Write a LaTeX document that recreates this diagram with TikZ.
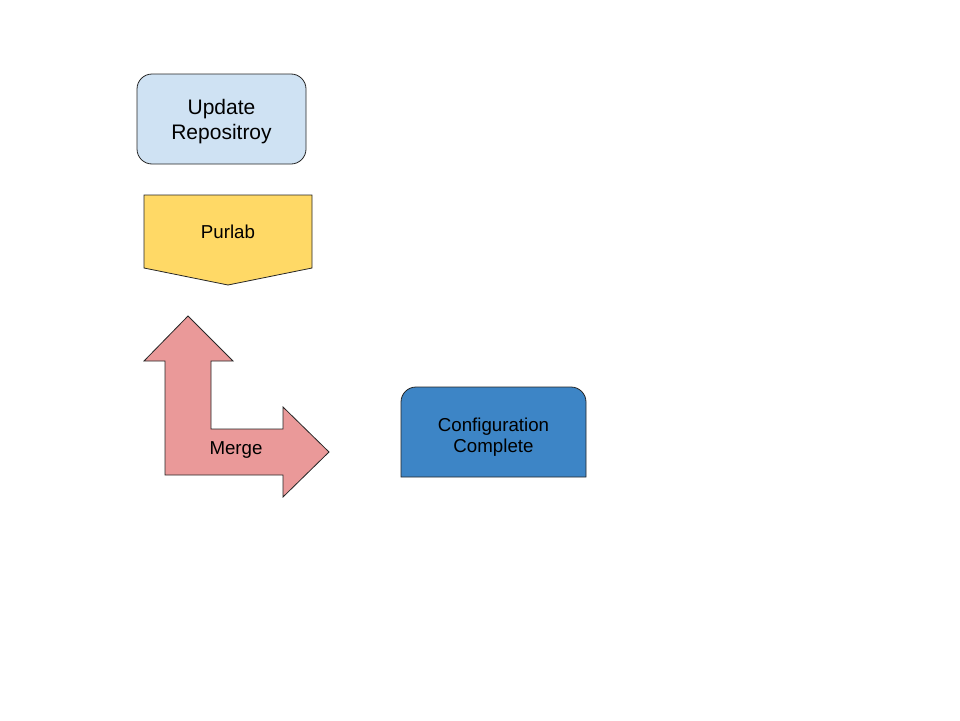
\documentclass[tikz,border=0pt]{standalone}
\usepackage{fontspec}
\setmainfont{Liberation Sans}

\definecolor{updblue}{HTML}{CFE2F3}
\definecolor{purlabyellow}{HTML}{FFD966}
\definecolor{mergepink}{HTML}{EA9999}
\definecolor{doneblue}{HTML}{3D85C6}

\tikzset{
    shapeline/.style={draw=black!85, line width=0.8pt},
    bigtext/.style={align=center, font=\fontsize{21}{25}\selectfont},
    smalltext/.style={align=center, font=\fontsize{18.7}{21.5}\selectfont}
}

\begin{document}
\begin{tikzpicture}[x=1pt, y=-1pt]
            \useasboundingbox (0,0) rectangle (960,720);

            \draw[shapeline, fill=updblue, rounded corners=15pt] (137,74) rectangle (306,164);
            \node[bigtext] (update) at (221.5,122) {Update\\Repositroy};

            \draw[shapeline, fill=purlabyellow] (144,195) -- (312,195) -- (312,268) -- (228,285) -- (144,268) -- cycle;
            \node[smalltext] (purlab) at (228,232) {Purlab};

            \draw[shapeline, fill=mergepink] (188,316) -- (233,361) -- (211,361) -- (211,429) -- (283,429) -- (283,407)
                -- (329,452) -- (283,497) -- (283,475) -- (165,475) -- (165,361) -- (144,361) -- cycle;
            \node[smalltext] (merge) at (236,450) {Merge};

            \draw[shapeline, fill=doneblue] (401,477) -- (401,402) arc[start angle=180, end angle=270, radius=15]
                -- (571,387) arc[start angle=270, end angle=360, radius=15] -- (586,477) -- cycle;
            \node[smalltext] (done) at (493.5,437) {Configuration\\Complete};
    \end{tikzpicture}
\end{document}
